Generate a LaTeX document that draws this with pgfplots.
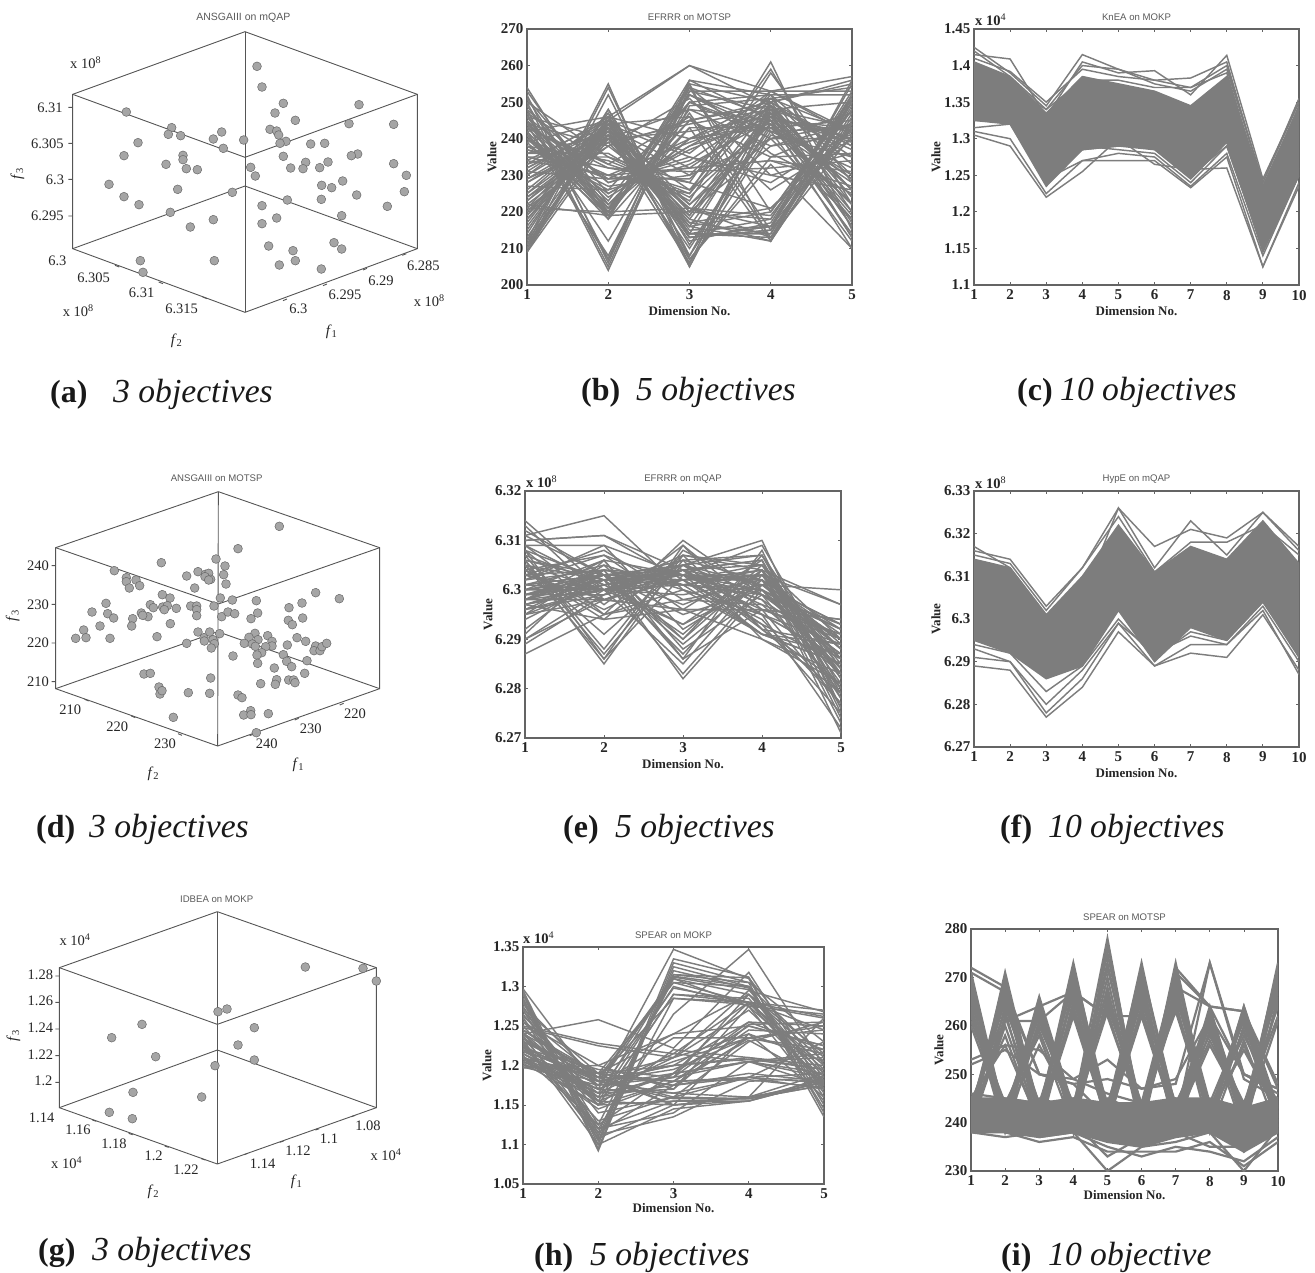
\documentclass[border=0pt]{standalone}
\usepackage{fontspec}
\setmainfont{Liberation Serif}
\newfontfamily\sansf{Liberation Sans}
\usepackage{pgfplots}
\usepackage{pgfplotstable}
\pgfplotsset{compat=1.18}
\definecolor{gC}{RGB}{125,125,125}
\definecolor{frC}{RGB}{100,100,100}
\definecolor{dotF}{RGB}{165,165,165}
\definecolor{dotE}{RGB}{105,105,105}
\newcommand\fs[1]{\fontsize{#1}{#1}\selectfont}
\pgfplotsset{
 lp/.style={scale only axis,anchor=south west,
  axis line style={draw=frC,line width=1.1pt},
  tick style={draw=frC,line width=0.8pt},tick align=inside,major tick length=3pt,
  /pgf/number format/assume math mode=true,
  tick label style={font=\fs{15}\bfseries,text=black!85},
  every x tick label/.append style={yshift=-1.5pt},
  xlabel={Dimension No.},ylabel={Value},
  every axis x label/.style={at={(axis description cs:0.5,0)},anchor=center,yshift=-26pt,font=\fs{13}\bfseries,text=black!85},
  every axis title/.style={at={(axis description cs:0.5,1)},anchor=center,yshift=12pt,font=\sansf\fs{9.6},text=black!65},
  xmin=1},
 vl/.style={every axis y label/.style={at={(axis description cs:0,0.5)},anchor=center,rotate=90,yshift=#1,font=\fs{13}\bfseries,text=black!85}},
 ln/.style={draw=gC,line width=1.45pt,no markers,solid},
 sc/.style={scale only axis,anchor=south west,hide axis,clip=false,xmin=0,ymin=0,y dir=reverse},
 fr/.style={draw=frC!85!black,line width=0.9pt,no markers,solid,unbounded coords=jump},
 dt/.style={only marks,mark=*,mark size=4.4pt,mark options={fill=dotF,draw=dotE,line width=0.5pt}}
}
\tikzset{tl/.style={font=\fs{14.5},text=black!85,inner sep=0pt},
 xt/.style={anchor=west,inner sep=0pt,font=\fs{14.5}\bfseries,text=black!85},
 cpb/.style={font=\fs{32},anchor=base west,inner sep=0pt,text=black!90},
 cpi/.style={font=\fs{33.6},anchor=base west,inner sep=0pt,text=black!90}}
\newcommand\tl[3]{\node[tl] at (axis cs:#1,#2){#3};}
\newcommand\fl[4][0]{\node[tl,font=\fs{15},rotate=#1] at (axis cs:#2,#3){\textit{f}\textsubscript{#4}};}
\newcommand\ttl[3]{\node[font=\sansf\fs{9.6},text=black!65] at (axis cs:#1,#2){#3};}
\newcommand\xten[3]{\node[tl,font=\fs{14.5}] at (axis cs:#1,#2){x 10\textsuperscript{#3}};}
\newcommand\plines[1]{\pgfplotstablegetcolsof{#1}\pgfmathtruncatemacro\nc{\pgfplotsretval-1}\pgfplotsinvokeforeach{1,...,\nc}{\addplot[ln] table[x index=0,y index=##1]{#1};}}

\pgfplotstableread[header=has colnames]{
1 2 3 4 5
254 219 252 244 214
252 206 256 245 210
250 207 255 250 256
248 205 254 236 225
247 204 253 248 243
245 212 250 252 220
251 218 254 220 250
249 220 255 212 245
246 219 247 215 243
243 222 245 249 226
244 207 249 251 254
242 208 253 253 257
241 221 240 251 230
240 225 237 246 240
240 220 256 252 233
239 219 252 240 218
238 226 250 242 212
238 234 225 261 215
237 232 228 259 222
236 236 223 258 228
235 235 224 245 242
234 245 215 216 250
233 246 214 214 249
232 244 213 215 244
232 243 212 217 252
231 245 206 250 238
230 246 205 248 240
230 243 207 235 244
229 242 210 244 222
228 240 218 212 246
224 241 221 213 247
223 240 214 218 253
222 239 216 220 251
221 244 213 216 255
220 243 213 215 256
219 242 208 242 232
218 241 206 241 235
217 245 222 240 240
215 246 220 238 244
214 248 211 243 228
212 255 205 247 213
211 254 207 233 210
210 252 208 249 217
209 248 213 216 243
210 246 260 249 238
209 245 260 253 242
211 244 235 230 226
212 243 232 234 227
221 220 221 219 248
222 219 220 218 252
246 240 248 245 229
244 238 245 250 235
240 230 239 247 237
237 229 240 243 245
235 230 232 234 231
243 232 231 232 234
248 228 235 228 242
250 235 228 221 243
236 241 226 253 241
234 230 225 251 242
233 240 242 246 226
241 218 243 243 222
242 246 240 244 218
239 245 236 253 253
245 224 238 250 255
229 239 244 248 250
228 242 230 252 252
226 244 246 226 240
225 241 219 246 239
224 238 251 230 236
227 226 233 245 243
231 229 229 249 224
238 227 230 240 247
218 244 217 221 240
247 233 246 213 241
249 221 243 212 250
253 222 240 248 216
251 225 238 245 219
246 228 234 249 224
244 229 232 247 226
243 233 226 244 230
219 247 214 249 213
216 245 216 247 216
213 244 218 246 220
211 243 220 250 222
210 241 219 248 226
209 240 222 244 229
220 240 217 214 250
221 238 221 216 248
223 242 216 212 252
225 244 214 213 251
241 220 245 235 236
242 219 248 238 241
243 221 250 240 244
244 223 252 242 243
246 220 254 246 240
}\rawB
\pgfplotstabletranspose\tB{\rawB}

\pgfplotstableread[header=has colnames]{
1 2 3 4 5
6.314 6.300 6.293 6.301 6.290
6.313 6.298 6.296 6.296 6.277
6.312 6.303 6.290 6.304 6.285
6.311 6.315 6.300 6.291 6.289
6.310 6.311 6.302 6.293 6.275
6.309 6.297 6.309 6.292 6.281
6.310 6.311 6.304 6.295 6.272
6.309 6.309 6.303 6.302 6.283
6.308 6.295 6.310 6.299 6.287
6.308 6.286 6.309 6.296 6.290
6.307 6.288 6.308 6.300 6.292
6.306 6.285 6.307 6.304 6.273
6.306 6.287 6.306 6.307 6.278
6.305 6.291 6.305 6.310 6.276
6.305 6.286 6.303 6.309 6.282
6.304 6.294 6.307 6.305 6.286
6.304 6.296 6.304 6.306 6.279
6.303 6.298 6.302 6.303 6.289
6.303 6.308 6.298 6.297 6.291
6.302 6.307 6.296 6.306 6.274
6.302 6.309 6.292 6.302 6.280
6.301 6.305 6.290 6.307 6.284
6.301 6.303 6.287 6.304 6.271
6.300 6.306 6.286 6.308 6.275
6.300 6.300 6.285 6.303 6.288
6.299 6.304 6.282 6.300 6.290
6.299 6.302 6.283 6.301 6.293
6.298 6.304 6.286 6.296 6.294
6.298 6.306 6.288 6.299 6.293
6.298 6.303 6.289 6.302 6.288
6.297 6.302 6.291 6.305 6.283
6.297 6.301 6.293 6.304 6.297
6.296 6.303 6.297 6.303 6.297
6.296 6.299 6.305 6.301 6.300
6.295 6.301 6.303 6.296 6.294
6.295 6.305 6.300 6.295 6.286
6.294 6.302 6.305 6.299 6.279
6.292 6.304 6.301 6.300 6.283
6.291 6.306 6.303 6.298 6.287
6.290 6.300 6.304 6.293 6.285
6.289 6.299 6.306 6.290 6.281
6.290 6.298 6.302 6.294 6.277
6.287 6.295 6.300 6.295 6.289
6.298 6.300 6.299 6.302 6.278
6.299 6.301 6.304 6.306 6.276
6.303 6.300 6.301 6.303 6.281
6.304 6.295 6.298 6.301 6.288
6.306 6.303 6.302 6.304 6.282
6.307 6.301 6.303 6.300 6.286
6.308 6.302 6.301 6.299 6.290
6.300 6.303 6.305 6.307 6.280
6.299 6.299 6.302 6.305 6.284
6.305 6.302 6.306 6.302 6.292
6.302 6.304 6.303 6.291 6.287
6.301 6.300 6.307 6.292 6.279
6.304 6.307 6.301 6.291 6.285
6.298 6.298 6.296 6.290 6.283
6.297 6.294 6.296 6.296 6.291
6.311 6.303 6.295 6.300 6.284
6.309 6.301 6.304 6.301 6.293
6.305 6.300 6.303 6.303 6.286
6.306 6.302 6.302 6.302 6.291
6.303 6.304 6.301 6.304 6.288
6.301 6.303 6.304 6.305 6.290
6.299 6.303 6.303 6.299 6.292
6.298 6.302 6.304 6.297 6.283
6.300 6.302 6.303 6.298 6.280
6.297 6.300 6.305 6.295 6.286
6.295 6.298 6.304 6.292 6.289
6.296 6.300 6.302 6.291 6.285
}\rawE
\pgfplotstabletranspose\tE{\rawE}

\pgfplotstableread[header=has colnames]{
1 2 3 4 5
1.297 1.170 1.347 1.310 1.150
1.295 1.100 1.335 1.312 1.140
1.292 1.095 1.330 1.305 1.135
1.290 1.092 1.325 1.300 1.145
1.285 1.105 1.320 1.298 1.160
1.282 1.110 1.315 1.311 1.190
1.280 1.115 1.313 1.300 1.210
1.278 1.180 1.312 1.296 1.185
1.275 1.125 1.310 1.290 1.215
1.272 1.190 1.305 1.280 1.270
1.270 1.155 1.300 1.275 1.265
1.265 1.150 1.290 1.285 1.170
1.262 1.185 1.285 1.280 1.195
1.260 1.120 1.265 1.347 1.200
1.240 1.258 1.222 1.318 1.170
1.255 1.200 1.240 1.290 1.180
1.250 1.228 1.215 1.280 1.175
1.248 1.225 1.210 1.270 1.180
1.245 1.180 1.200 1.255 1.220
1.242 1.160 1.190 1.250 1.225
1.240 1.150 1.180 1.245 1.240
1.238 1.115 1.175 1.235 1.250
1.235 1.130 1.160 1.230 1.255
1.232 1.108 1.150 1.160 1.260
1.230 1.100 1.145 1.155 1.180
1.228 1.112 1.135 1.180 1.185
1.225 1.120 1.155 1.158 1.175
1.222 1.185 1.150 1.160 1.190
1.220 1.180 1.158 1.158 1.175
1.218 1.170 1.165 1.185 1.178
1.215 1.160 1.175 1.185 1.170
1.212 1.145 1.180 1.182 1.172
1.210 1.155 1.190 1.205 1.185
1.208 1.190 1.200 1.208 1.195
1.205 1.170 1.215 1.205 1.210
1.203 1.150 1.220 1.210 1.200
1.200 1.180 1.195 1.235 1.245
1.198 1.175 1.185 1.255 1.250
1.197 1.200 1.170 1.252 1.255
1.212 1.125 1.190 1.280 1.262
1.215 1.165 1.210 1.295 1.268
1.222 1.195 1.185 1.290 1.205
1.235 1.165 1.170 1.275 1.190
1.240 1.155 1.150 1.240 1.160
1.250 1.150 1.155 1.155 1.185
1.260 1.140 1.160 1.185 1.230
1.270 1.120 1.140 1.205 1.215
1.245 1.190 1.240 1.250 1.225
1.255 1.175 1.235 1.235 1.220
1.230 1.190 1.180 1.232 1.180
1.218 1.185 1.305 1.300 1.165
1.210 1.165 1.298 1.280 1.200
1.225 1.175 1.310 1.275 1.155
1.205 1.160 1.315 1.305 1.230
1.208 1.150 1.290 1.280 1.245
1.285 1.105 1.285 1.277 1.260
1.245 1.185 1.180 1.185 1.190
1.240 1.190 1.175 1.190 1.180
1.235 1.180 1.165 1.160 1.178
1.230 1.185 1.160 1.158 1.182
1.225 1.175 1.190 1.205 1.190
1.220 1.180 1.200 1.210 1.195
1.215 1.170 1.205 1.235 1.215
1.210 1.185 1.210 1.240 1.205
1.205 1.165 1.185 1.205 1.175
1.200 1.190 1.150 1.155 1.180
}\rawH
\pgfplotstabletranspose\tH{\rawH}

\pgfplotstableread[header=has colnames]{
1 2 3 4 5 6 7 8 9 10
1.425 1.39 1.345 1.415 1.395 1.38 1.37 1.40 1.24 1.35
1.42 1.385 1.34 1.40 1.395 1.375 1.365 1.395 1.24 1.355
1.415 1.409 1.33 1.405 1.39 1.393 1.36 1.414 1.245 1.35
1.41 1.392 1.35 1.395 1.385 1.38 1.383 1.405 1.235 1.34
1.305 1.29 1.22 1.255 1.30 1.265 1.258 1.26 1.125 1.235
1.31 1.30 1.225 1.27 1.27 1.27 1.233 1.275 1.125 1.24
1.315 1.32 1.245 1.27 1.28 1.275 1.235 1.28 1.14 1.25
1.325 1.325 1.25 1.285 1.29 1.29 1.25 1.29 1.15 1.26
1.39 1.37 1.34 1.38 1.38 1.37 1.37 1.39 1.23 1.34
1.33 1.33 1.24 1.29 1.285 1.28 1.24 1.29 1.15 1.25
}\rawC
\pgfplotstabletranspose\tC{\rawC}

\pgfplotstableread[header=has colnames]{
1 2 3 4 5 6 7 8 9 10
6.317 6.312 6.301 6.305 6.326 6.312 6.323 6.315 6.325 6.317
6.316 6.314 6.303 6.312 6.326 6.317 6.321 6.319 6.325 6.316
6.315 6.313 6.302 6.312 6.324 6.311 6.318 6.318 6.322 6.315
6.289 6.288 6.277 6.284 6.297 6.289 6.292 6.291 6.301 6.288
6.291 6.290 6.278 6.286 6.299 6.289 6.294 6.294 6.302 6.287
6.293 6.290 6.280 6.288 6.299 6.292 6.296 6.294 6.303 6.290
6.294 6.292 6.283 6.289 6.300 6.291 6.297 6.295 6.304 6.292
}\rawF
\pgfplotstabletranspose\tF{\rawF}

\pgfplotstableread[header=has colnames]{
1 2 3 4 5 6 7 8 9 10
271 241 266 243 278 240 273 241 264 241
269 240 265 238 277 241 272 242 263 240
268 242 264 242 273 239 271 240 262 243
266 239 263 241 272 243 270 244 261 239
265 243 262 240 268 238 269 239 260 242
263 238 260 244 267 242 266 243 258 244
262 244 258 239 266 240 265 238 257 238
260 241 256 243 264 244 263 241 256 241
240 271 242 273 241 273 240 264 240 273
242 270 240 272 243 272 241 263 242 272
239 269 243 271 240 271 243 262 239 271
243 267 241 270 238 270 239 261 243 270
241 266 239 268 242 268 242 260 241 268
238 264 244 266 239 266 238 259 238 266
244 263 238 265 244 265 244 258 244 264
240 262 242 263 241 263 240 256 243 262
245 256 240 262 240 262 242 260 240 261
270 240 265 242 275 241 272 240 264 243
267 242 263 240 270 239 268 243 259 240
264 240 261 243 265 243 267 240 262 239
261 243 259 241 263 241 264 242 255 242
241 268 241 272 240 272 243 263 241 272
243 265 243 269 243 269 240 262 240 269
239 260 240 264 241 267 241 257 243 267
242 258 239 267 239 264 239 261 239 265
272 268 250 248 241 240 272 264 263 248
271 267 250 249 246 244 271 264 263 247
244 261 261 267 262 242 268 264 250 247
240 261 264 267 262 262 240 273 249 245
253 256 255 249 253 247 248 273 250 246
252 255 250 248 249 247 249 262 250 247
238 237 238 238 235 233 235 234 232 237
240 238 236 237 234 234 234 236 231 236
239 240 237 238 230 235 236 238 230 239
241 239 240 240 233 237 238 235 235 238
242 243 241 241 245 242 241 240 236 240
243 241 245 243 238 240 243 244 234 242
245 244 243 245 240 239 239 242 237 244
246 245 244 244 242 241 245 240 240 243
}\rawI
\pgfplotstabletranspose\tI{\rawI}

\begin{document}
\begin{tikzpicture}[x=1pt,y=1pt]
\path[use as bounding box] (0,0) rectangle (1315,-1273);

% ---- (a)
\begin{axis}[sc,at={(0pt,-420pt)},width=450pt,height=420pt,xmax=1350,ymax=1260]
\addplot[fr] coordinates {(735,95)(218,283)(218,746)(735,937)(1252,746)(1252,283)(735,95)};
\addplot[fr] coordinates {(218,283)(735,472)(1252,283)};
\addplot[fr] coordinates {(218,746)(735,558)(1252,746)};
\addplot[fr] coordinates {(735,95)(735,937)};
\addplot[fr] coordinates {(205,322)(218,322)(nan,nan)(205,430)(218,430)(nan,nan)(205,538)(218,538)(nan,nan)(205,648)(218,648)(nan,nan)(345,796)(358,801)(nan,nan)(476,846)(489,851)(nan,nan)(608,891)(621,896)(nan,nan)(1207,766)(1219,761)(nan,nan)(1089,810)(1101,805)(nan,nan)(969,857)(981,852)(nan,nan)(849,902)(861,897)};
\addplot[dt] coordinates {(771,199)(786,261)(850,310)(825,339)(886,361)(1077,314)(1047,371)(1181,373)(810,388)(830,393)(836,405)(858,424)(840,430)(932,432)(974,430)(731,420)(665,396)(640,417)(670,445)(515,383)(505,403)(542,407)(379,336)(414,428)(372,467)(549,466)(549,479)(498,493)(559,506)(592,509)(850,469)(1073,462)(1054,467)(1181,491)(1219,526)(917,487)(984,486)(872,504)(909,506)(959,503)(752,502)(766,528)(965,556)(995,563)(1028,543)(1213,575)(1070,585)(964,598)(1162,619)(862,600)(786,617)(327,553)(372,590)(417,614)(533,568)(697,577)(511,637)(640,659)(571,681)(830,654)(786,671)(1025,647)(806,738)(1002,728)(1025,747)(879,752)(886,782)(838,795)(964,807)(421,782)(429,817)(643,782)};
\ttl{730}{52}{\fs{10.5}ANSGAIII on mQAP}
\tl{150}{322}{6.31}\tl{142}{430}{6.305}\tl{165}{538}{6.3}\tl{142}{648}{6.295}
\tl{172}{782}{6.3}\tl{281}{832}{6.305}\tl{425}{878}{6.31}\tl{545}{927}{6.315}
\tl{1270}{797}{6.285}\tl{1143}{842}{6.29}\tl{1035}{883}{6.295}\tl{895}{927}{6.3}
\xten{257}{188}{8}\xten{235}{933}{8}\xten{1288}{903}{8}
\fl[90]{52}{520}{3}\fl{530}{1022}{2}\fl{995}{995}{1}
\end{axis}

% ---- (d)
\begin{axis}[sc,at={(0pt,-790pt)},width=420pt,height=330pt,xmax=1260,ymax=990]
\addplot[fr] coordinates {(655,95)(167,263)(167,686)(653,858)(1139,686)(1139,263)(655,95)};
\addplot[fr] coordinates {(167,263)(655,432)(1139,263)};
\addplot[fr] coordinates {(167,686)(653,515)(1139,686)};
\addplot[fr] coordinates {(655,95)(653,858)};
\addplot[fr] coordinates {(155,317)(167,317)(nan,nan)(155,433)(167,433)(nan,nan)(155,549)(167,549)(nan,nan)(155,665)(167,665)(nan,nan)(254,718)(266,723)(nan,nan)(394,768)(406,773)(nan,nan)(534,821)(546,826)(nan,nan)(1019,735)(1031,730)(nan,nan)(884,780)(896,775)(nan,nan)(749,827)(761,822)};
\addplot[dt] coordinates {(838,199)(714,266)(648,297)(675,318)(484,308)(343,332)(379,353)(379,365)(408,360)(419,377)(388,384)(560,348)(594,335)(616,343)(626,340)(615,350)(632,358)(626,360)(671,344)(678,372)(584,384)(487,404)(510,414)(661,414)(697,420)(769,422)(947,398)(1018,416)(906,429)(867,443)(318,430)(276,456)(323,461)(341,474)(451,434)(460,443)(488,441)(502,437)(493,449)(529,445)(572,438)(590,438)(590,449)(590,467)(642,438)(665,470)(684,456)(704,461)(773,459)(753,476)(865,481)(877,494)(908,474)(424,459)(444,470)(428,466)(398,476)(395,498)(300,498)(251,510)(258,533)(227,535)(330,535)(471,530)(511,491)(594,516)(612,533)(629,516)(639,539)(659,521)(613,543)(643,551)(560,550)(634,564)(765,520)(747,532)(774,539)(733,550)(757,552)(766,559)(803,527)(816,544)(816,558)(797,560)(862,555)(891,533)(917,544)(947,558)(942,572)(960,572)(966,560)(980,550)(785,578)(771,585)(850,584)(699,588)(860,604)(921,602)(773,610)(823,624)(875,620)(914,640)(432,642)(451,640)(632,654)(830,659)(866,660)(881,660)(885,668)(826,673)(782,671)(477,681)(480,702)(486,692)(565,698)(629,700)(714,705)(726,713)(752,752)(731,765)(753,764)(805,761)(520,772)(769,818)};
\ttl{650}{55}{ANSGAIII on MOTSP}
\tl{114}{317}{240}\tl{114}{433}{230}\tl{114}{549}{220}\tl{114}{665}{210}
\tl{211}{750}{210}\tl{352}{799}{220}\tl{495}{850}{230}
\tl{1065}{760}{220}\tl{932}{805}{230}\tl{800}{852}{240}
\fl[90]{38}{468}{3}\fl{460}{940}{2}\fl{895}{914}{1}
\end{axis}

% ---- (g)
\begin{axis}[sc,at={(0pt,-1210pt)},width=420pt,height=330pt,xmax=1260,ymax=990]
\addplot[fr] coordinates {(652,95)(178,263)(178,683)(652,852)(1129,683)(1129,263)(652,95)};
\addplot[fr] coordinates {(178,263)(652,433)(1129,263)};
\addplot[fr] coordinates {(178,683)(652,510)(1129,683)};
\addplot[fr] coordinates {(652,95)(652,852)};
\addplot[fr] coordinates {(166,288)(178,288)(nan,nan)(166,367)(178,367)(nan,nan)(166,447)(178,447)(nan,nan)(166,527)(178,527)(nan,nan)(166,607)(178,607)(nan,nan)(277,720)(289,724)(nan,nan)(386,760)(398,764)(nan,nan)(494,798)(506,802)(nan,nan)(604,836)(616,840)(nan,nan)(1054,710)(1066,706)(nan,nan)(946,750)(958,746)(nan,nan)(839,787)(851,783)(nan,nan)(732,824)(744,820)};
\addplot[dt] coordinates {(916,261)(1089,265)(1129,303)(681,387)(654,395)(426,433)(763,443)(335,473)(714,495)(467,530)(763,540)(645,557)(399,637)(605,651)(328,697)(397,716)};
\ttl{650}{57}{IDBEA on MOKP}
\tl{121}{284}{1.28}\tl{121}{363}{1.26}\tl{121}{443}{1.24}\tl{121}{523}{1.22}\tl{130}{603}{1.2}
\tl{125}{713}{1.14}\tl{234}{750}{1.16}\tl{342}{790}{1.18}\tl{461}{827}{1.2}\tl{558}{868}{1.22}
\tl{1104}{737}{1.08}\tl{987}{775}{1.1}\tl{894}{812}{1.12}\tl{788}{850}{1.14}
\xten{225}{180}{4}\xten{200}{848}{4}\xten{1158}{823}{4}
\fl[90]{40}{468}{3}\fl{460}{934}{2}\fl{890}{905}{1}
\end{axis}

% ---- (b)
\begin{axis}[lp,vl=35pt,at={(527pt,-285pt)},width=325pt,height=256pt,title={EFRRR on MOTSP},xmax=5,ymin=200,ymax=270,xtick={1,2,3,4,5},ytick={200,210,...,270}]
\plines{\tB}
\end{axis}

% ---- (c)
\begin{axis}[lp,vl=38pt,at={(974pt,-285pt)},width=325pt,height=256pt,title={KnEA on MOKP},xmax=10,ymin=1.1,ymax=1.45,xtick={1,...,10},ytick={1.1,1.15,1.2,1.25,1.3,1.35,1.4,1.45},yticklabels={1.1,1.15,1.2,1.25,1.3,1.35,1.4,1.45}]
\addplot[ln,fill=gC] coordinates {(1,1.405)(2,1.385)(3,1.335)(4,1.385)(5,1.375)(6,1.365)(7,1.345)(8,1.385)(9,1.235)(10,1.345)(10,1.25)(9,1.145)(8,1.295)(7,1.245)(6,1.285)(5,1.29)(4,1.285)(3,1.235)(2,1.32)(1,1.325)};
\plines{\tC}
\end{axis}

% ---- (e)
\begin{axis}[lp,vl=37pt,at={(525pt,-738pt)},width=316pt,height=247pt,title={EFRRR on mQAP},xmax=5,ymin=6.27,ymax=6.32,xtick={1,2,3,4,5},ytick={6.27,6.28,6.29,6.3,6.31,6.32},yticklabels={6.27,6.28,6.29,6.3,6.31,6.32}]
\plines{\tE}
\end{axis}

% ---- (f)
\begin{axis}[lp,vl=38pt,at={(974pt,-747pt)},width=325pt,height=256pt,title={HypE on mQAP},xmax=10,ymin=6.27,ymax=6.33,xtick={1,...,10},ytick={6.27,6.28,6.29,6.3,6.31,6.32,6.33},yticklabels={6.27,6.28,6.29,6.3,6.31,6.32,6.33}]
\addplot[ln,fill=gC] coordinates {(1,6.314)(2,6.312)(3,6.301)(4,6.310)(5,6.322)(6,6.311)(7,6.317)(8,6.314)(9,6.323)(10,6.313)(10,6.291)(9,6.304)(8,6.295)(7,6.298)(6,6.290)(5,6.302)(4,6.289)(3,6.286)(2,6.292)(1,6.295)};
\plines{\tF}
\end{axis}

% ---- (h)
\begin{axis}[lp,vl=36pt,every axis x label/.append style={yshift=2pt},at={(523pt,-1184pt)},width=301pt,height=237pt,title={SPEAR on MOKP},xmax=5,ymin=1.05,ymax=1.35,xtick={1,2,3,4,5},ytick={1.05,1.1,1.15,1.2,1.25,1.3,1.35},yticklabels={1.05,1.1,1.15,1.2,1.25,1.3,1.35}]
\plines{\tH}
\end{axis}

% ---- (i)
\begin{axis}[lp,vl=32pt,every axis x label/.append style={yshift=2pt},at={(971pt,-1171pt)},width=307pt,height=242pt,title={SPEAR on MOTSP},xmax=10,ymin=230,ymax=280,xtick={1,...,10},ytick={230,240,...,280}]
\addplot[ln,fill=gC] coordinates {(1,245)(2,245)(3,244)(4,245)(5,244)(6,244)(7,245)(8,245)(9,243)(10,245)(10,238)(9,234)(8,238)(7,237)(6,235)(5,236)(4,238)(3,237)(2,238)(1,238)};
\pgfplotsset{ln/.append style={line width=2.2pt}}
\plines{\tI}
\end{axis}

% ---- exponent marks above the axes
\node[xt] at (975,-20) {x 10\textsuperscript{\mdseries4}};
\node[xt] at (526,-482) {x 10\textsuperscript{\mdseries8}};
\node[xt] at (975,-483) {x 10\textsuperscript{\mdseries8}};
\node[xt] at (523,-938) {x 10\textsuperscript{\mdseries4}};

% ---- captions
\node[cpb] at (50,-402) {\textbf{(a)}};\node[cpi] at (113,-402) {\textit{3 objectives}};
\node[cpb] at (581,-400) {\textbf{(b)}};\node[cpi] at (636,-400) {\textit{5 objectives}};
\node[cpb] at (1017,-400) {\textbf{(c)}};\node[cpi] at (1060,-400) {\textit{10 objectives}};
\node[cpb] at (36,-837) {\textbf{(d)}};\node[cpi] at (89,-837) {\textit{3 objectives}};
\node[cpb] at (563,-837) {\textbf{(e)}};\node[cpi] at (615,-837) {\textit{5 objectives}};
\node[cpb] at (1000,-837) {\textbf{(f)}};\node[cpi] at (1048,-837) {\textit{10 objectives}};
\node[cpb] at (38,-1260) {\textbf{(g)}};\node[cpi] at (92,-1260) {\textit{3 objectives}};
\node[cpb] at (534,-1265) {\textbf{(h)}};\node[cpi] at (590,-1265) {\textit{5 objectives}};
\node[cpb] at (1001,-1265) {\textbf{(i)}};\node[cpi] at (1048,-1265) {\textit{10 objective}};
\end{tikzpicture}
\end{document}
